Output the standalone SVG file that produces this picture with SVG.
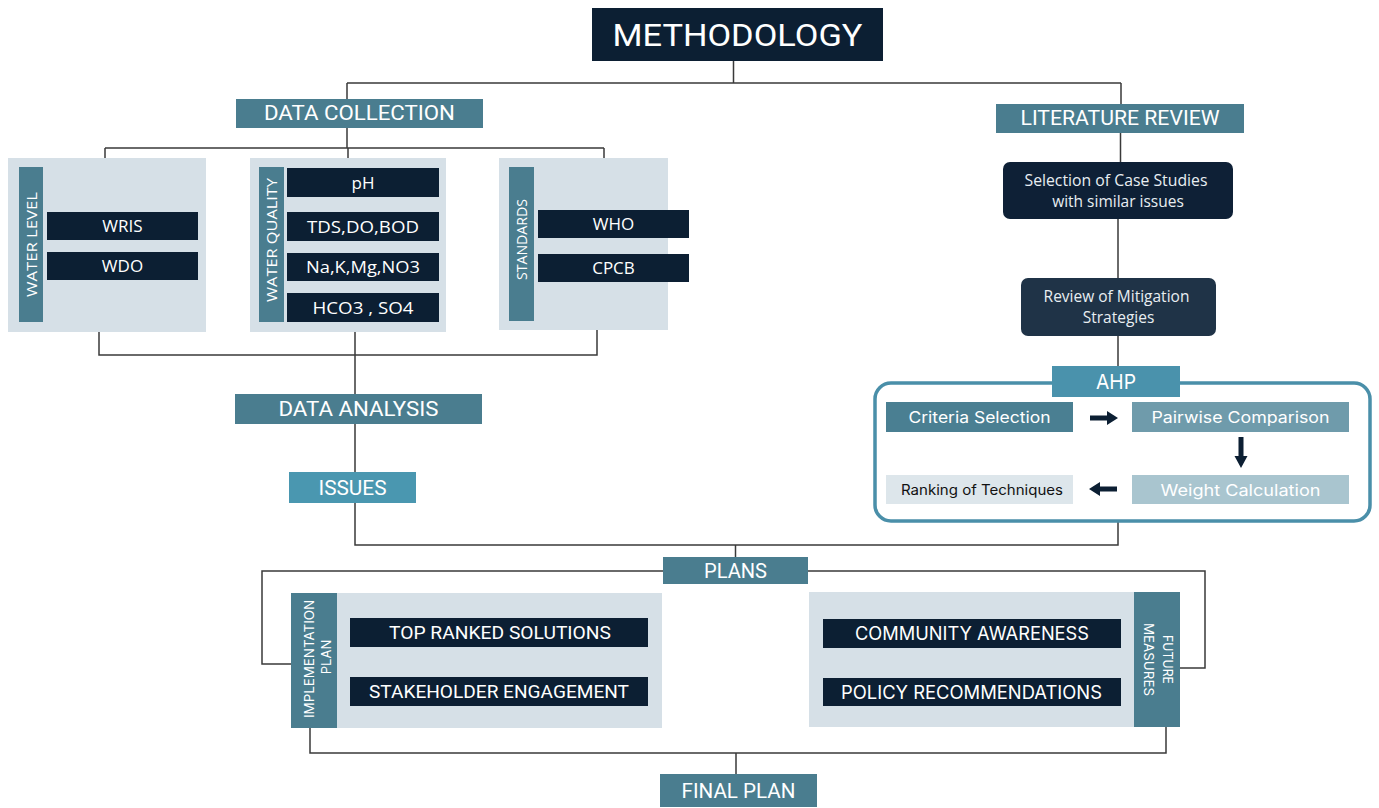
<svg xmlns="http://www.w3.org/2000/svg" width="1379" height="808" viewBox="0 0 1379 808">
<style>
.bg{fill:#ffffff}
.navy{fill:#0c1f33}
.teal{fill:#4a7d8f}
.cyan{fill:#4a97b0}
.grp{fill:#d6e0e7}
.bar{fill:#4a7d8f}
.ln{fill:none;stroke:#3a3a3a;stroke-width:1.5}
.hd{font-family:Roboto,"Liberation Sans",sans-serif;fill:#ffffff;text-anchor:middle}
.it{font-family:"Open Sans","Liberation Sans",sans-serif;fill:#ffffff;text-anchor:middle}
.geo{font-family:Inter,"Open Sans","Liberation Sans",sans-serif;fill:#ffffff;text-anchor:middle}
.dark{fill:#111111}
.soft{fill:#e8eef2}
.arr{fill:#0c1f33}
</style>
<rect class="bg" x="0" y="0" width="1379" height="808"/>

<g id="connectors">
<path class="ln" d="M733.5,61 V83 M347,83 H1121 M347,83 V99 M1121,83 V104"/>
<path class="ln" d="M347,128 V148 M105,148 H604 M105,148 V158 M604,148 V158 M348,148 V158"/>
<path class="ln" d="M99,332 V355 H597 V330 M355,332 V394"/>
<path class="ln" d="M355,424 V472 M355,503 V545 H1118 V522"/>
<path class="ln" d="M1120.5,133 V162 M1118,219 V278 M1118,336 V366"/>
<path class="ln" d="M735.5,545 V557"/>
<path class="ln" d="M663,571 H262 V664 H291 M808,571 H1205 V668 H1180"/>
<path class="ln" d="M310,728 V753 H1166 V727 M736,753 V774"/>
</g>

<g id="methodology">
<rect class="navy" x="592" y="8" width="291" height="53"/>
<text class="hd" x="737.5" y="46" font-size="32" textLength="250" lengthAdjust="spacingAndGlyphs">METHODOLOGY</text>
</g>

<g id="data-collection">
<rect class="teal" x="236" y="99" width="247" height="29"/>
<text class="hd" x="359.5" y="120" font-size="20" textLength="191" lengthAdjust="spacingAndGlyphs">DATA COLLECTION</text>
</g>

<g id="literature-review">
<rect class="teal" x="996" y="104" width="248" height="29"/>
<text class="hd" x="1120" y="125" font-size="20" textLength="199" lengthAdjust="spacingAndGlyphs">LITERATURE REVIEW</text>
</g>

<g id="water-level">
<rect class="grp" x="8" y="158" width="198" height="174"/>
<rect class="bar" x="19" y="167" width="24" height="155"/>
<text class="it" transform="translate(36.5,244.5) rotate(-90)" font-size="15" textLength="105" lengthAdjust="spacingAndGlyphs">WATER LEVEL</text>
<rect class="navy" x="47" y="212" width="151" height="28"/>
<text class="it" x="122.5" y="232" font-size="17">WRIS</text>
<rect class="navy" x="47" y="252" width="151" height="28"/>
<text class="it" x="122.5" y="272" font-size="17">WDO</text>
</g>

<g id="water-quality">
<rect class="grp" x="250" y="158" width="196" height="174"/>
<rect class="bar" x="259" y="167" width="25" height="155"/>
<text class="it" transform="translate(277,240) rotate(-90)" font-size="15" textLength="124" lengthAdjust="spacingAndGlyphs">WATER QUALITY</text>
<rect class="navy" x="287" y="168" width="152" height="29"/>
<text class="it" x="363" y="188.5" font-size="17">pH</text>
<rect class="navy" x="287" y="212" width="152" height="29"/>
<text class="it" x="363" y="232.5" font-size="17" textLength="112" lengthAdjust="spacingAndGlyphs">TDS,DO,BOD</text>
<rect class="navy" x="287" y="253" width="152" height="28"/>
<text class="it" x="363" y="273" font-size="17" textLength="114" lengthAdjust="spacingAndGlyphs">Na,K,Mg,NO3</text>
<rect class="navy" x="287" y="293" width="152" height="29"/>
<text class="it" x="363" y="313.5" font-size="17" textLength="101" lengthAdjust="spacingAndGlyphs">HCO3 , SO4</text>
</g>

<g id="standards">
<rect class="grp" x="499" y="158" width="169" height="172"/>
<rect class="bar" x="509" y="167" width="25" height="154"/>
<text class="it" transform="translate(527,239.5) rotate(-90)" font-size="15" textLength="81" lengthAdjust="spacingAndGlyphs">STANDARDS</text>
<rect class="navy" x="538" y="210" width="151" height="28"/>
<text class="it" x="613.5" y="230" font-size="17">WHO</text>
<rect class="navy" x="538" y="254" width="151" height="28"/>
<text class="it" x="613.5" y="274" font-size="17">CPCB</text>
</g>

<g id="data-analysis">
<rect class="teal" x="235" y="394" width="247" height="30"/>
<text class="hd" x="358.5" y="416" font-size="20" textLength="160" lengthAdjust="spacingAndGlyphs">DATA ANALYSIS</text>
</g>

<g id="issues">
<rect class="cyan" x="289" y="472" width="127" height="31"/>
<text class="hd" x="352.5" y="494.5" font-size="20" textLength="68" lengthAdjust="spacingAndGlyphs">ISSUES</text>
</g>

<g id="selection-case-studies">
<rect x="1003" y="162" width="230" height="57" rx="7" fill="#0e2036"/>
<text class="it soft" font-size="15.5">
<tspan x="1118" y="186" textLength="183" lengthAdjust="spacingAndGlyphs">Selection of Case Studies</tspan>
<tspan x="1118" y="207">with similar issues</tspan>
</text>
</g>

<g id="review-mitigation">
<rect x="1021" y="278" width="195" height="58" rx="7" fill="#1f3347"/>
<text class="it soft" font-size="15.5">
<tspan x="1118.5" y="302">Review of Mitigation</tspan>
<tspan x="1118.5" y="323">Strategies</tspan>
</text>
</g>

<g id="ahp">
<rect x="875" y="383" width="495" height="138" rx="16" fill="#ffffff" stroke="#4a8fa9" stroke-width="3.5"/>
<rect x="1052" y="366" width="128" height="31" fill="#4a92ac"/>
<text class="geo" x="1116" y="389" font-size="20" textLength="40" lengthAdjust="spacingAndGlyphs">AHP</text>
</g>

<g id="criteria-selection">
<rect x="886" y="402" width="187" height="30" fill="#4a7f92"/>
<text class="geo" x="979.5" y="423" font-size="16" textLength="142" lengthAdjust="spacingAndGlyphs">Criteria Selection</text>
</g>

<g id="pairwise-comparison">
<rect x="1132" y="402" width="217" height="30" fill="#6f9bab"/>
<text class="geo" x="1240.5" y="423" font-size="16" textLength="178" lengthAdjust="spacingAndGlyphs">Pairwise Comparison</text>
</g>

<g id="weight-calculation">
<rect x="1132" y="475" width="217" height="29" fill="#a9c5cf"/>
<text class="geo" x="1240.5" y="495.5" font-size="16" textLength="160" lengthAdjust="spacingAndGlyphs">Weight Calculation</text>
</g>

<g id="ranking-techniques">
<rect x="886" y="475" width="187" height="29" fill="#dde6eb"/>
<text class="geo dark" x="982" y="495" font-size="14" textLength="162" lengthAdjust="spacingAndGlyphs">Ranking of Techniques</text>
</g>

<g id="ahp-arrows">
<path class="arr" d="M1090,415.5 H1107 V411 L1118,418 L1107,425 V420.5 H1090 Z"/>
<path class="arr" d="M1238.5,437 V456 H1234.5 L1241,468 L1247.5,456 H1243.5 V437 Z"/>
<path class="arr" d="M1117,486.5 H1100 V482 L1089,489 L1100,496 V491.5 H1117 Z"/>
</g>

<g id="plans">
<rect class="teal" x="663" y="557" width="145" height="27"/>
<text class="hd" x="735.5" y="577.5" font-size="20" textLength="63" lengthAdjust="spacingAndGlyphs">PLANS</text>
</g>

<g id="implementation-plan">
<rect class="grp" x="336" y="593" width="326" height="135"/>
<rect class="bar" x="291" y="593" width="46" height="135"/>
<text class="geo" transform="translate(313.5,659) rotate(-90)" font-size="13" textLength="118" lengthAdjust="spacingAndGlyphs">IMPLEMENTATION</text>
<text class="geo" transform="translate(330.5,657) rotate(-90)" font-size="13">PLAN</text>
<rect class="navy" x="350" y="618" width="298" height="29"/>
<text class="hd" x="500" y="639" font-size="19" textLength="222" lengthAdjust="spacingAndGlyphs">TOP RANKED SOLUTIONS</text>
<rect class="navy" x="350" y="677" width="298" height="29"/>
<text class="hd" x="499" y="698" font-size="19" textLength="260" lengthAdjust="spacingAndGlyphs">STAKEHOLDER ENGAGEMENT</text>
</g>

<g id="future-measures">
<rect class="grp" x="809" y="592" width="325" height="135"/>
<rect class="bar" x="1134" y="592" width="46" height="135"/>
<text class="geo" transform="translate(1162.5,659.5) rotate(90)" font-size="13" textLength="49" lengthAdjust="spacingAndGlyphs">FUTURE</text>
<text class="geo" transform="translate(1143.5,659.5) rotate(90)" font-size="13" textLength="73" lengthAdjust="spacingAndGlyphs">MEASURES</text>
<rect class="navy" x="823" y="619" width="298" height="29"/>
<text class="geo" x="972" y="640" font-size="18" textLength="234" lengthAdjust="spacingAndGlyphs">COMMUNITY AWARENESS</text>
<rect class="navy" x="823" y="678" width="298" height="28"/>
<text class="geo" x="971.5" y="698.5" font-size="18" textLength="261" lengthAdjust="spacingAndGlyphs">POLICY RECOMMENDATIONS</text>
</g>

<g id="final-plan">
<rect class="teal" x="660" y="774" width="157" height="33"/>
<text class="hd" x="738.5" y="797.5" font-size="20" textLength="114" lengthAdjust="spacingAndGlyphs">FINAL PLAN</text>
</g>
</svg>
